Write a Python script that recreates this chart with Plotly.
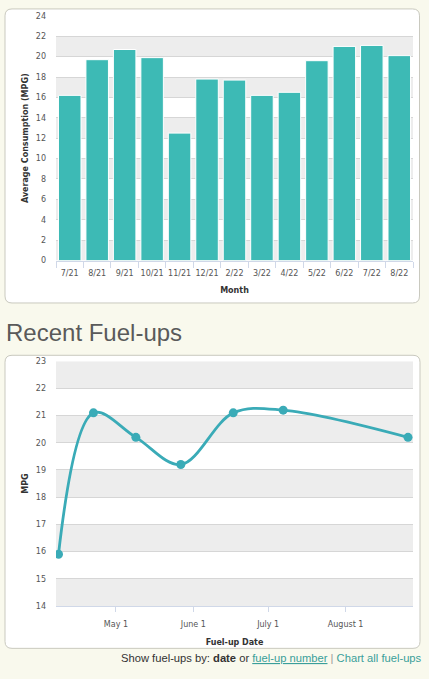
import plotly.graph_objects as go

# ---------------- data ----------------
months = ["7/21", "8/21", "9/21", "10/21", "11/21", "12/21", "2/22", "3/22",
          "4/22", "5/22", "6/22", "7/22", "8/22"]
avg_mpg = [16.2, 19.7, 20.7, 19.9, 12.5, 17.8, 17.7, 16.2, 16.5, 19.6, 21.0, 21.1, 20.1]

fuelup_dates = ["2022-04-08", "2022-04-22", "2022-05-09", "2022-05-27",
                "2022-06-17", "2022-07-07", "2022-08-26"]
fuelup_mpg = [15.9, 21.1, 20.2, 19.2, 21.1, 21.2, 20.2]

date_tickvals = ["2022-05-01", "2022-06-01", "2022-07-01", "2022-08-01"]
date_ticktext = ["May 1", "June 1", "July 1", "August 1"]

# ---------------- geometry helpers ----------------
W, H = 429, 679


def px(x):
    return x / W


def py(y):
    return 1 - y / H


def rounded_rect(x0, y0, x1, y1, r):
    rx, ry = r / W, r / H
    X0, X1 = px(x0), px(x1)
    Y0, Y1 = py(y0), py(y1)  # Y0 top (larger), Y1 bottom
    return (f"M {X0+rx},{Y0} L {X1-rx},{Y0} Q {X1},{Y0} {X1},{Y0-ry} "
            f"L {X1},{Y1+ry} Q {X1},{Y1} {X1-rx},{Y1} "
            f"L {X0+rx},{Y1} Q {X0},{Y1} {X0},{Y1+ry} "
            f"L {X0},{Y0-ry} Q {X0},{Y0} {X0+rx},{Y0} Z")


BAR_COLOR = "#3dbab5"
LINE_COLOR = "#3aabb7"
GRID = "#d6d6d6"
BAND = "#ededed"
TICKFONT = dict(family="DejaVu Sans", size=8, color="#555555")
TITLEFONT = dict(family="DejaVu Sans", size=8, color="#333333", weight="bold")

fig = go.Figure()

fig.add_trace(go.Bar(
    x=months, y=avg_mpg, marker=dict(color=BAR_COLOR, line=dict(color="#ffffff", width=1)),
    xaxis="x", yaxis="y", hoverinfo="x+y", showlegend=False,
))

fig.add_trace(go.Scatter(
    x=fuelup_dates, y=fuelup_mpg, mode="lines+markers",
    line=dict(color=LINE_COLOR, width=2.8, shape="spline", smoothing=1.0),
    marker=dict(color=LINE_COLOR, size=9),
    xaxis="x2", yaxis="y2", showlegend=False,
))

shapes = []
# cards
shapes.append(dict(type="path", path=rounded_rect(5, 5, 419.5, 303, 7), xref="paper", yref="paper",
                   fillcolor="#ffffff", line=dict(color="#c9c9bf", width=1), layer="below"))
shapes.append(dict(type="path", path=rounded_rect(5, 356, 420, 653, 7), xref="paper", yref="paper",
                   fillcolor="#ffffff", line=dict(color="#c9c9bf", width=1), layer="below"))
# bands chart 1
for b in range(0, 24, 4):
    shapes.append(dict(type="rect", xref="x domain", yref="y", x0=0, x1=1, y0=b, y1=b + 2,
                       fillcolor=BAND, line=dict(width=0), layer="below"))
# bands chart 2
for b in range(14, 23, 2):
    shapes.append(dict(type="rect", xref="x2 domain", yref="y2", x0=0, x1=1, y0=b, y1=b + 1,
                       fillcolor=BAND, line=dict(width=0), layer="below"))

annotations = [
    dict(text="Recent Fuel-ups", x=px(3.5), y=py(333), xref="paper", yref="paper",
         xanchor="left", yanchor="middle", showarrow=False,
         font=dict(family="Liberation Sans", size=24, color="#5a5a5a")),
    dict(text=("<span style='color:#333333'>Show fuel-ups by: <b>date</b> or </span>"
               "<span style='color:#3a9f9a'><u>fuel-up number</u></span>"
               "<span style='color:#999999'> | </span>"
               "<span style='color:#3a9f9a'>Chart all fuel-ups</span>"),
         x=px(423.5), y=py(663), xref="paper", yref="paper",
         xanchor="right", yanchor="middle", showarrow=False,
         font=dict(family="Liberation Sans", size=11.2, color="#333333")),
]

fig.update_layout(
    width=W, height=H,
    margin=dict(l=0, r=0, t=0, b=0),
    paper_bgcolor="#f9f9ed",
    plot_bgcolor="rgba(0,0,0,0)",
    shapes=shapes,
    annotations=annotations,
    bargap=0.18,
    xaxis=dict(domain=[px(56), px(413)], anchor="y", type="category",
               range=[-0.5, len(months) - 0.5],
               showgrid=False, showline=True, linecolor="#d0d8e8", linewidth=1,
               ticks="outside", ticklen=6, tickcolor="#d0d8e8", tickson="boundaries",
               ticklabelstandoff=5,
               tickangle=0, tickfont=TICKFONT, fixedrange=True,
               title=dict(text="Month", font=TITLEFONT, standoff=10)),
    yaxis=dict(domain=[py(260), py(12)], anchor="x", range=[0, 24], dtick=2, tick0=0,
               showgrid=True, gridcolor=GRID, gridwidth=1, zeroline=False,
               showline=False, ticks="", ticklabelstandoff=9,
               tickfont=TICKFONT, fixedrange=True,
               title=dict(text="Average Consumption (MPG)", font=TITLEFONT, standoff=6)),
    xaxis2=dict(domain=[px(56), px(413)], anchor="y2", type="date",
                range=["2022-04-07", "2022-08-28"],
                tickvals=date_tickvals, ticktext=date_ticktext,
                showgrid=False, showline=True, linecolor="#d0d8e8", linewidth=1,
                ticks="outside", ticklen=5, tickcolor="#d0d8e8", tickangle=0,
                ticklabelstandoff=5,
                tickfont=TICKFONT, fixedrange=True,
                title=dict(text="Fuel-up Date", font=TITLEFONT, standoff=11)),
    yaxis2=dict(domain=[py(610), py(362)], anchor="x2", range=[14, 23], dtick=1, tick0=14,
                showgrid=True, gridcolor=GRID, gridwidth=1, zeroline=False,
                showline=False, ticks="", ticklabelstandoff=9,
                tickfont=TICKFONT, fixedrange=True,
                title=dict(text="MPG", font=TITLEFONT, standoff=6)),
)

fig.write_html(
    "out.html",
    config={"displayModeBar": False},
    post_script="document.body.style.margin='0';document.body.style.padding='0';"
                "document.body.style.background='#f9f9ed';",
)
